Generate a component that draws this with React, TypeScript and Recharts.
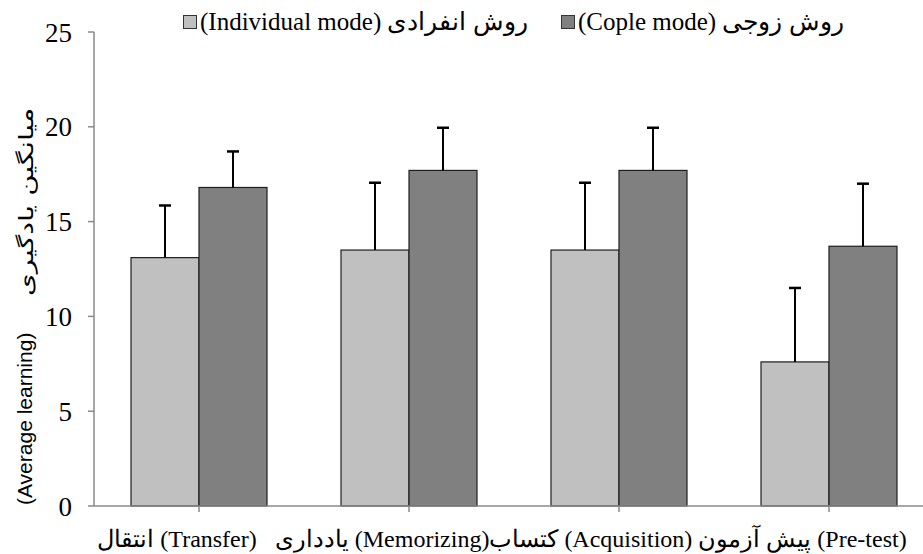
import React from 'react';
import { Bar, BarChart, Legend, XAxis, YAxis } from 'recharts';

const categories = ['Pre-test', 'Acquisition', 'Memorizing', 'Transfer'];
const individualMeans = [13.1, 13.5, 13.5, 7.6];
const individualSd = [2.75, 3.55, 3.55, 3.9];
const coupleMeans = [16.8, 17.7, 17.7, 13.7];
const coupleSd = [1.9, 2.25, 2.25, 3.3];
const yTicks = [0, 5, 10, 15, 20, 25];

const individualName = '(Individual mode) روش انفرادی';
const coupleName = '(Cople mode) روش زوجی';
const legendOrder = [individualName, coupleName];
const xTitle = 'انتقال (Transfer)   یادداری (Memorizing)کتساب (Acquisition) پیش آزمون (Pre-test)';
const yTitleEn = '(Average learning)';
const yTitleFa = 'میانگین یادگیری';

const data = categories.map((name, i) => ({
  name,
  individual: individualMeans[i],
  individualSd: individualSd[i],
  couple: coupleMeans[i],
  coupleSd: coupleSd[i],
}));

const AXIS = '#8a8a8a';
const SERIF = '"Liberation Serif", "Times New Roman", serif';

// bar rect plus an upward-only error whisker, scaled from the bar's own height
function barWithError(valueKey: string, sdKey: string) {
  return (props: any) => {
    const { x, y, width, height, fill, payload } = props;
    const value = payload[valueKey];
    const perUnit = value ? height / value : 0;
    const top = y - payload[sdKey] * perUnit;
    const cx = x + width / 2;
    return (
      <g>
        <rect x={x} y={y} width={width} height={height} fill={fill} stroke="#1e1e1e" strokeWidth={1.2} />
        <line x1={cx} y1={y} x2={cx} y2={top} stroke="#000" strokeWidth={2} />
        <line x1={cx - 6} y1={top} x2={cx + 6} y2={top} stroke="#000" strokeWidth={2.5} />
      </g>
    );
  };
}

function renderLegend(props: any) {
  const items = [...(props.payload || [])].sort(
    (a: any, b: any) => legendOrder.indexOf(a.value) - legendOrder.indexOf(b.value)
  );
  return (
    <div
      style={{
        display: 'flex',
        paddingLeft: 183,
        fontFamily: SERIF,
        fontSize: 25,
        color: '#000',
        lineHeight: '34px',
        whiteSpace: 'nowrap',
        direction: 'ltr',
      }}
    >
      {items.map((item: any, i: number) => (
        <div key={i} style={{ display: 'flex', alignItems: 'center', width: i === 0 ? 378 : undefined }}>
          <span
            style={{
              display: 'inline-block',
              width: 12,
              height: 12,
              background: item.color,
              border: '1px solid #333',
              marginRight: 3,
            }}
          />
          <span>{item.value}</span>
        </div>
      ))}
    </div>
  );
}

function YTitle() {
  const x0 = 32;
  const yEn = 505;
  const yFa = 296;
  return (
    <g fill="#000">
      <text
        x={x0}
        y={yEn}
        transform={`rotate(-90, ${x0}, ${yEn})`}
        textAnchor="start"
        fontFamily='"Liberation Sans", Arial, sans-serif'
        fontSize={21}
      >
        {yTitleEn}
      </text>
      <g transform={`translate(${x0 + 1}, ${yFa}) rotate(-90) scale(1.45, 1)`}>
        <text x={0} y={0} textAnchor="start" fontFamily='"DejaVu Sans", sans-serif' fontSize={20}>
          {yTitleFa}
        </text>
      </g>
    </g>
  );
}

function XTitle() {
  return (
    <text
      x={502}
      y={547}
      fill="#000"
      fontFamily={SERIF}
      fontSize={24}
      textAnchor="middle"
      direction="ltr"
      style={{ whiteSpace: 'pre' }}
    >
      {xTitle}
    </text>
  );
}

const emptyTick = () => <g />;

export default function App() {
  return (
    <div style={{ position: 'absolute', left: 0, top: 0, width: 923, height: 554, overflow: 'hidden', background: '#fff' }}>
      <BarChart
        width={935}
        height={554}
        data={data}
        margin={{ top: 32, right: 1, bottom: 0, left: 0 }}
        barGap={0}
        barSize={68}
      >
        <XAxis
          dataKey="name"
          height={48}
          axisLine={{ stroke: AXIS, strokeWidth: 1.5 }}
          tickLine={{ stroke: AXIS, strokeWidth: 1.5 }}
          tickSize={6}
          tick={emptyTick}
          label={{ content: XTitle }}
        />
        <YAxis
          width={94}
          domain={[0, 25]}
          ticks={yTicks}
          interval={0}
          axisLine={{ stroke: AXIS, strokeWidth: 1.5 }}
          tickLine={{ stroke: AXIS, strokeWidth: 1.5 }}
          tickSize={6}
          tickMargin={16}
          tick={{ fill: '#000', fontFamily: SERIF, fontSize: 27 }}
          label={{ content: YTitle }}
        />
        <Legend
          verticalAlign="middle"
          itemSorter={null as any}
          wrapperStyle={{ top: 5, left: 0, width: 935, height: 34 }}
          content={renderLegend}
        />
        <Bar
          dataKey="individual"
          name={individualName}
          fill="#c0c0c0"
          shape={barWithError('individual', 'individualSd')}
          isAnimationActive={false}
        />
        <Bar
          dataKey="couple"
          name={coupleName}
          fill="#808080"
          shape={barWithError('couple', 'coupleSd')}
          isAnimationActive={false}
        />
      </BarChart>
    </div>
  );
}
